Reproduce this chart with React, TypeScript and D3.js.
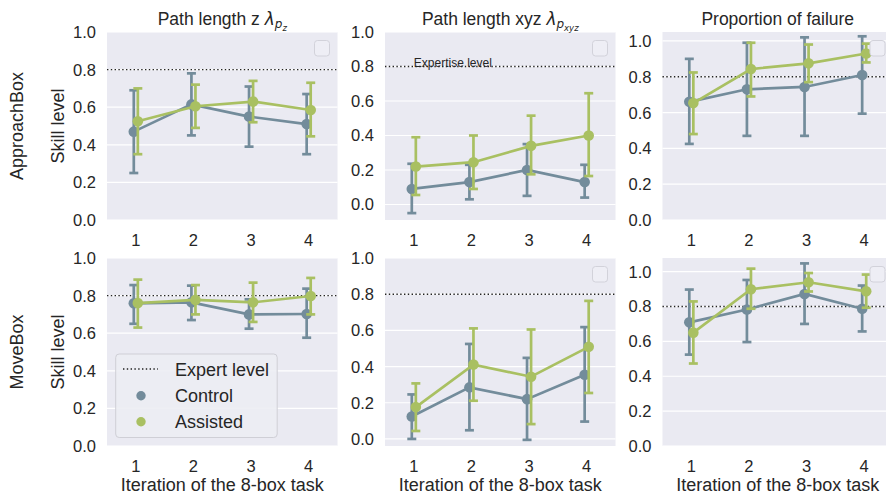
import React from "react";
import * as d3 from "d3";

// ---------- data ----------
const iterations = ["1", "2", "3", "4"];
const rowLabels = ["ApproachBox", "MoveBox"];
const yTicks = [0, 0.2, 0.4, 0.6, 0.8, 1.0];
const expertLevel = 0.8;
const groups = ["Control", "Assisted"];

// [mean, lower, upper]
const approachZControl = [[0.47, 0.25, 0.69], [0.615, 0.45, 0.78], [0.55, 0.39, 0.71], [0.51, 0.35, 0.67]];
const approachZAssisted = [[0.525, 0.35, 0.70], [0.605, 0.49, 0.72], [0.63, 0.52, 0.74], [0.585, 0.445, 0.73]];
const approachXyzControl = [[0.09, -0.05, 0.236], [0.13, 0.03, 0.23], [0.20, 0.05, 0.35], [0.13, 0.04, 0.23]];
const approachXyzAssisted = [[0.22, 0.055, 0.39], [0.245, 0.09, 0.40], [0.34, 0.175, 0.515], [0.40, 0.165, 0.645]];
const approachFailControl = [[0.66, 0.425, 0.90], [0.73, 0.47, 0.99], [0.743, 0.47, 1.02], [0.81, 0.594, 1.026]];
const approachFailAssisted = [[0.653, 0.48, 0.824], [0.843, 0.69, 0.99], [0.875, 0.77, 0.98], [0.93, 0.88, 0.985]];
const moveZControl = [[0.759, 0.65, 0.856], [0.764, 0.67, 0.853], [0.70, 0.624, 0.78], [0.702, 0.576, 0.837]];
const moveZAssisted = [[0.76, 0.63, 0.885], [0.777, 0.70, 0.856], [0.764, 0.66, 0.869], [0.798, 0.70, 0.894]];
const moveXyzControl = [[0.124, 0.0, 0.246], [0.285, 0.048, 0.525], [0.22, -0.005, 0.448], [0.355, 0.096, 0.618]];
const moveXyzAssisted = [[0.176, 0.044, 0.307], [0.411, 0.211, 0.611], [0.344, 0.082, 0.605], [0.509, 0.254, 0.763]];
const moveFailControl = [[0.709, 0.524, 0.897], [0.783, 0.596, 0.952], [0.872, 0.70, 1.047], [0.787, 0.657, 0.92]];
const moveFailAssisted = [[0.65, 0.473, 0.829], [0.899, 0.787, 1.017], [0.939, 0.886, 0.992], [0.887, 0.793, 0.983]];

// ---------- layout / style ----------
const W = 886, H = 499;
const colX = [107, 385, 662.5];
const colW = 230.5;
const rowY = [32, 258];
const rowH = 188;
const yDomains = [
  [[0, 1], [-0.09, 1], [0, 1.05]],
  [[0, 1], [-0.039, 1], [0, 1.078]],
];
const panelData = [
  [[approachZControl, approachZAssisted], [approachXyzControl, approachXyzAssisted], [approachFailControl, approachFailAssisted]],
  [[moveZControl, moveZAssisted], [moveXyzControl, moveXyzAssisted], [moveFailControl, moveFailAssisted]],
];
const colors = ["#738c9b", "#a9c062"];
const dodge = [-0.035, 0.035];
const BG = "#eaeaf2";
const TXT = "#262626";
const FONT = "'Liberation Sans', Arial, sans-serif";
const MATH = "'DejaVu Sans', sans-serif";
const LABEL = 18;

function Title({ col, cx }: { col: number; cx: number }) {
  const y = 25;
  if (col === 0)
    return (
      <text x={cx} y={y} textAnchor="middle" fontSize={17.5} fill={TXT}>
        {"Path length z "}
        <tspan fontFamily={MATH} fontStyle="italic" fontSize={17}>λ</tspan>
        <tspan fontFamily={MATH} fontStyle="italic" fontSize={12} dy={3}>p</tspan>
        <tspan fontFamily={MATH} fontStyle="italic" fontSize={8.5} dy={2.5}>z</tspan>
      </text>
    );
  if (col === 1)
    return (
      <text x={cx} y={y} textAnchor="middle" fontSize={17.5} fill={TXT}>
        {"Path length xyz "}
        <tspan fontFamily={MATH} fontStyle="italic" fontSize={17}>λ</tspan>
        <tspan fontFamily={MATH} fontStyle="italic" fontSize={12} dy={3}>p</tspan>
        <tspan fontFamily={MATH} fontStyle="italic" fontSize={8.5} dy={2.5}>xyz</tspan>
      </text>
    );
  return (
    <text x={cx} y={y} textAnchor="middle" fontSize={17.5} fill={TXT}>
      Proportion of failure
    </text>
  );
}

function Panel({ row, col }: { row: number; col: number }) {
  const x0 = colX[col];
  const y0 = rowY[row];
  const x = d3.scaleLinear().domain([-0.5, iterations.length - 0.5]).range([x0, x0 + colW]);
  const y = d3.scaleLinear().domain(yDomains[row][col]).range([y0 + rowH, y0]);
  const series = panelData[row][col];
  const ey = y(expertLevel);
  const showEmptyLegend = !(row === 1 && col === 0);
  const cap = 4.5;
  return (
    <g>
      <rect x={x0} y={y0} width={colW} height={rowH} fill={BG} />
      {yTicks.map((t) => (
        <g key={t}>
          <line x1={x0} x2={x0 + colW} y1={y(t)} y2={y(t)} stroke="#fff" strokeWidth={1.2} />
          <text x={x0 - 11} y={y(t)} dy="0.36em" textAnchor="end" fontSize={16.5} fill={TXT}>
            {t.toFixed(1)}
          </text>
        </g>
      ))}
      {iterations.map((it, i) => (
        <text key={it} x={x(i)} y={y0 + rowH + 25.5} textAnchor="middle" fontSize={16.5} fill={TXT}>
          {it}
        </text>
      ))}
      <line x1={x0} x2={x0 + colW} y1={ey} y2={ey} stroke="#222" strokeWidth={1.4} strokeDasharray="1.4 2.4" />
      {row === 0 && col === 1 && (
        <text x={x(0)} y={ey + 0.5} fontSize={12} fill={TXT}>
          Expertise level
        </text>
      )}
      {series.map((s, g) => {
        const c = colors[g];
        const xs = (i: number) => x(i + dodge[g]);
        return (
          <g key={g}>
            {s.map((d, i) => (
              <g key={i} stroke={c} strokeWidth={2.7}>
                <line x1={xs(i)} x2={xs(i)} y1={y(d[1])} y2={y(d[2])} />
                <line x1={xs(i) - cap} x2={xs(i) + cap} y1={y(d[1])} y2={y(d[1])} />
                <line x1={xs(i) - cap} x2={xs(i) + cap} y1={y(d[2])} y2={y(d[2])} />
              </g>
            ))}
            <path
              d={d3.line<number[]>().x((d, i) => xs(i)).y((d) => y(d[0]))(s) || ""}
              fill="none"
              stroke={c}
              strokeWidth={2.7}
            />
            {s.map((d, i) => (
              <circle key={i} cx={xs(i)} cy={y(d[0])} r={5.3} fill={c} />
            ))}
          </g>
        );
      })}
      {showEmptyLegend && (
        <rect x={x0 + colW - 23} y={y0 + 8.5} width={15} height={15.5} rx={3} fill="#eeeef5" stroke="#d2d2da" strokeWidth={1} />
      )}
      {row === 0 && <Title col={col} cx={x0 + colW / 2} />}
      {row === 1 && (
        <text x={x0 + colW / 2} y={491} textAnchor="middle" fontSize={LABEL} fill={TXT}>
          Iteration of the 8-box task
        </text>
      )}
      {col === 0 && (
        <>
          <text transform={`translate(64,${y0 + rowH / 2}) rotate(-90)`} textAnchor="middle" fontSize={LABEL} fill={TXT}>
            Skill level
          </text>
          <text transform={`translate(23,${y0 + rowH / 2}) rotate(-90)`} textAnchor="middle" fontSize={LABEL} fill={TXT}>
            {rowLabels[row]}
          </text>
        </>
      )}
    </g>
  );
}

function Legend() {
  const lx = 115.7, ly = 354;
  return (
    <g>
      <rect x={lx} y={ly} width={161.5} height={83.5} rx={3.5} fill="#ecedf3" fillOpacity={0.9} stroke="#cfcfd6" strokeWidth={1} />
      <line x1={123} x2={158} y1={369} y2={369} stroke="#222" strokeWidth={1.4} strokeDasharray="1.4 2.4" />
      <text x={175} y={375.5} fontSize={LABEL} fill={TXT}>Expert level</text>
      {groups.map((g, i) => (
        <g key={g}>
          <circle cx={141} cy={395.7 + i * 26} r={4.7} fill={colors[i]} />
          <text x={175} y={401.5 + i * 26} fontSize={LABEL} fill={TXT}>{g}</text>
        </g>
      ))}
    </g>
  );
}

export default function App() {
  return (
    <svg
      width={W}
      height={H}
      viewBox={`0 0 ${W} ${H}`}
      style={{ position: "absolute", left: 0, top: 0, background: "#fff", fontFamily: FONT }}
    >
      {[0, 1].map((r) => [0, 1, 2].map((c) => <Panel key={`${r}-${c}`} row={r} col={c} />))}
      <Legend />
    </svg>
  );
}
